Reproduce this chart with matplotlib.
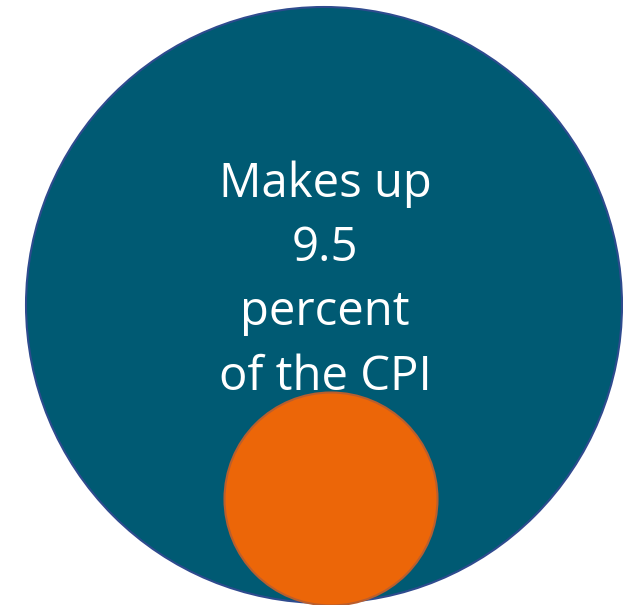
import matplotlib
matplotlib.use("Agg")
import matplotlib.pyplot as plt
from matplotlib.patches import Circle

# Data
share_value = 9.5
label_lines = ["Makes up", f"{share_value}", "percent", "of the CPI"]

W, H = 623, 605
fig = plt.figure(figsize=(W / 100, H / 100), dpi=100)
ax = fig.add_axes([0, 0, 1, 1])
ax.set_xlim(0, W)
ax.set_ylim(H, 0)
ax.set_aspect("equal")
ax.axis("off")

big = Circle((324, 305), 298, facecolor="#005A73", edgecolor="#2E4B8E", linewidth=1.5)
ax.add_patch(big)
small = Circle((331, 499), 106.5, facecolor="#EC6608", edgecolor="#B95E2E", linewidth=1.5)
ax.add_patch(small)

baselines = [197, 261, 325, 390]
for line, yb in zip(label_lines, baselines):
    ax.text(325, yb, line, color="white", fontsize=34, family=["Open Sans", "DejaVu Sans"],
            ha="center", va="baseline")

fig.savefig("out.png", dpi=100)
